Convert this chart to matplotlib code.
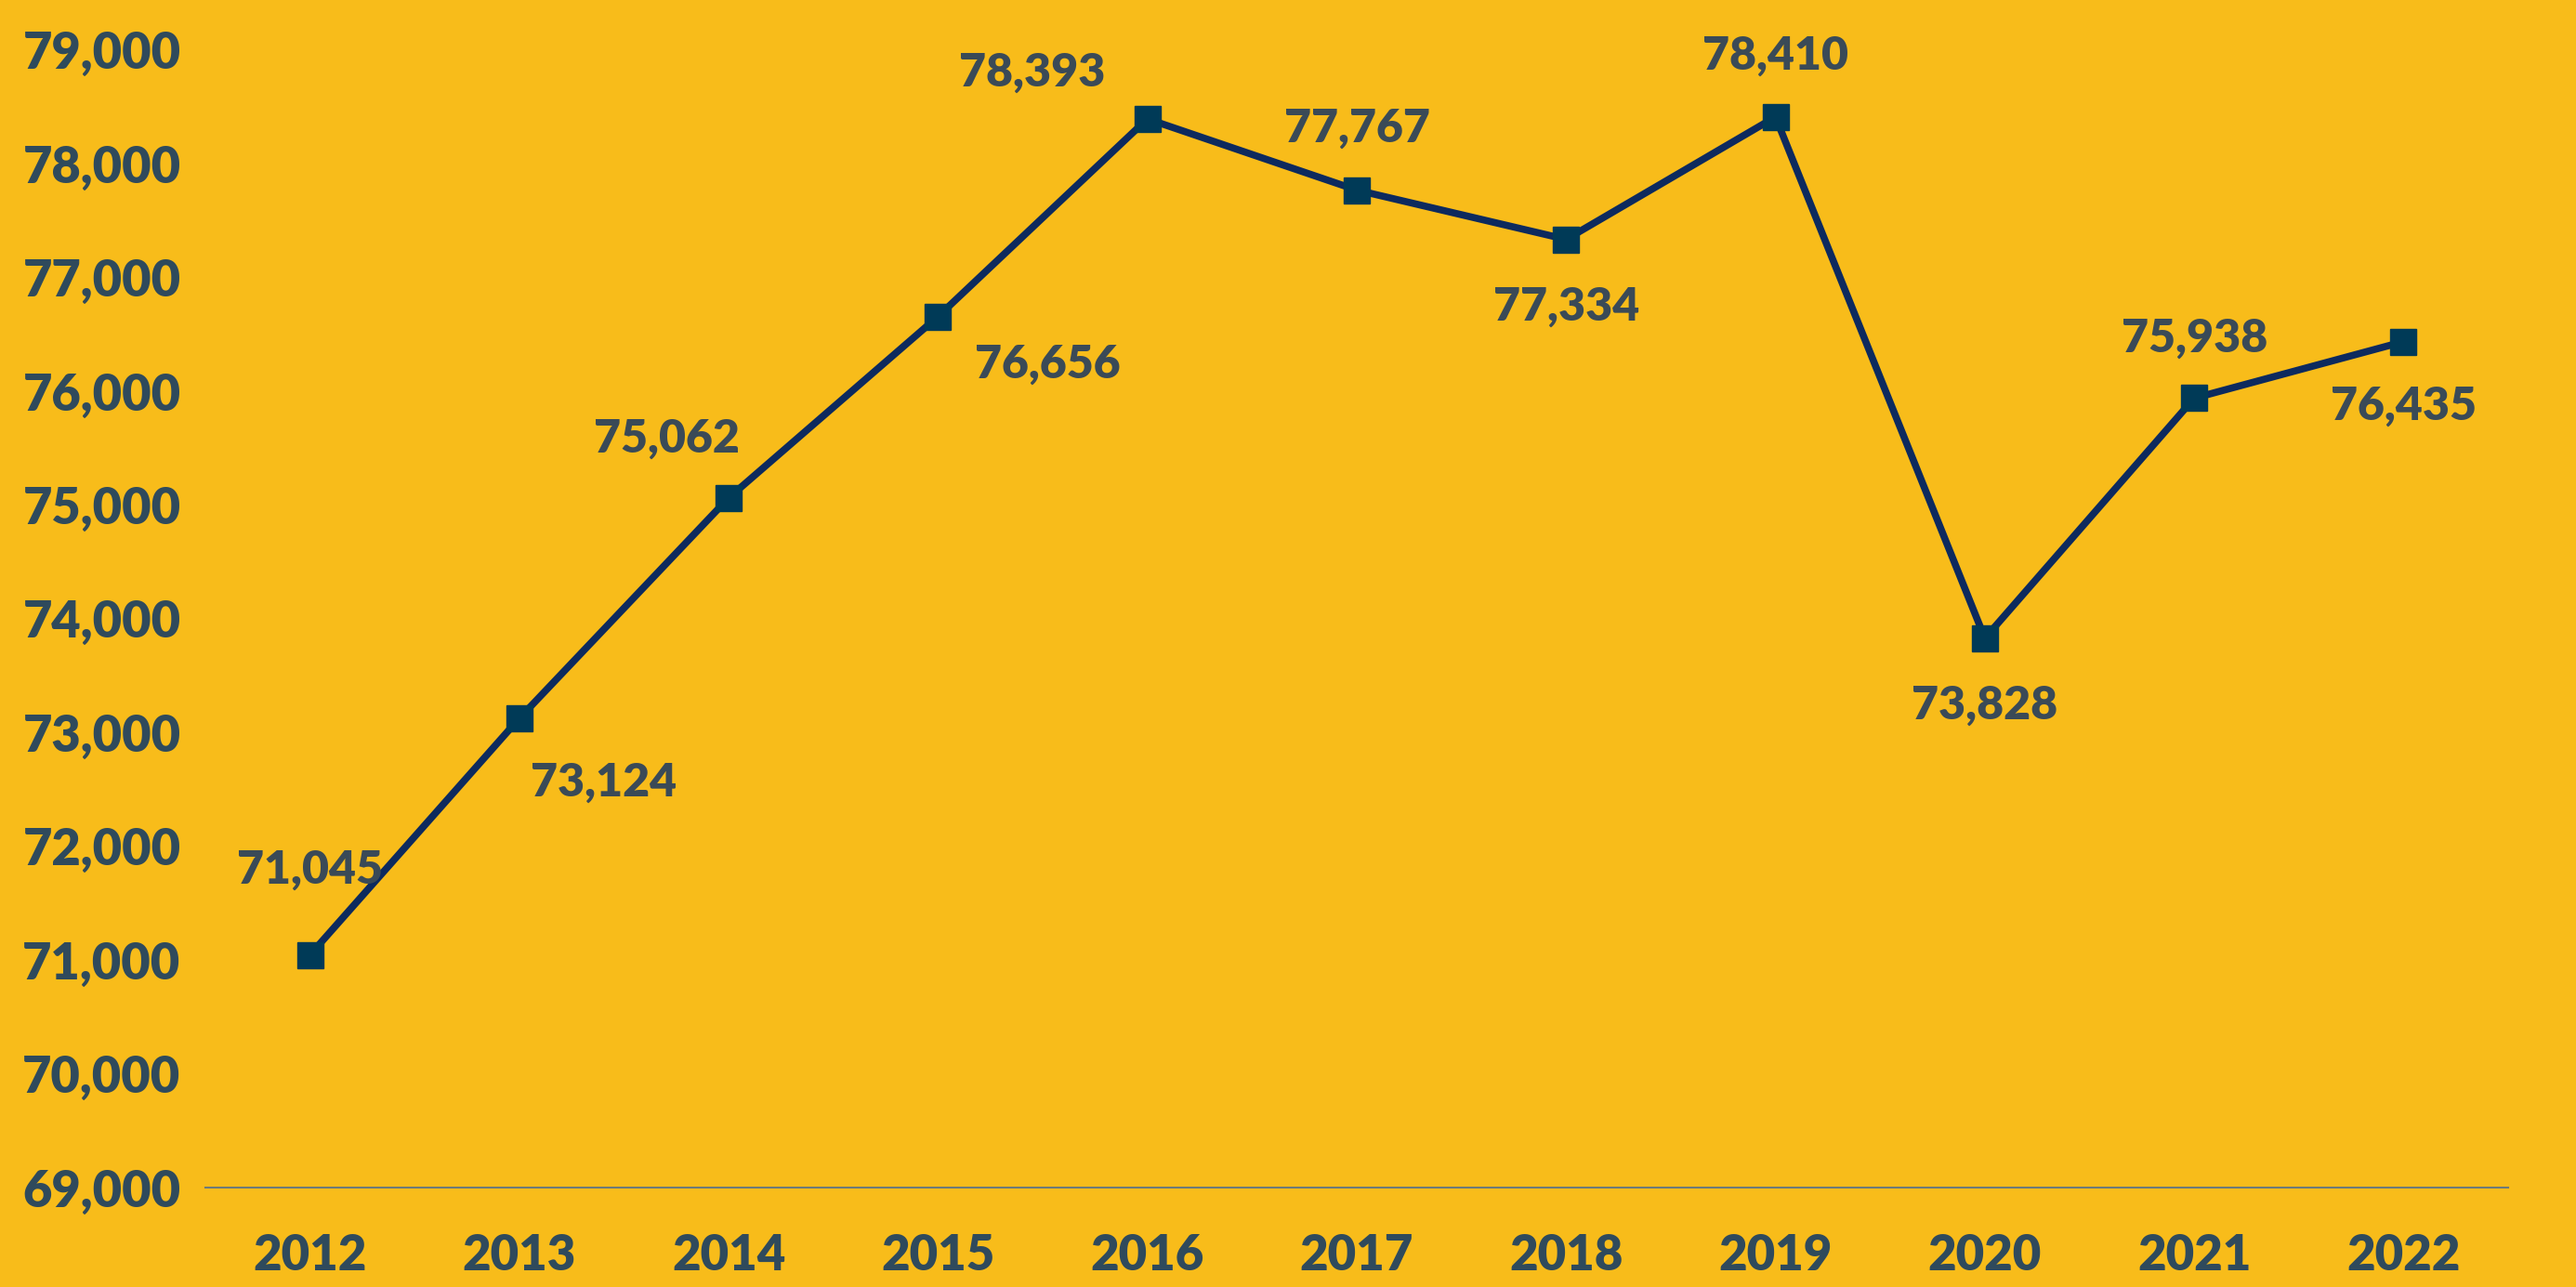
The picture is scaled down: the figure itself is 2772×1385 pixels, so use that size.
import matplotlib
matplotlib.use("Agg")
import matplotlib.pyplot as plt
from matplotlib.ticker import FuncFormatter

# data
years = ["2012", "2013", "2014", "2015", "2016", "2017", "2018", "2019", "2020", "2021", "2022"]
values = [71045, 73124, 75062, 76656, 78393, 77767, 77334, 78410, 73828, 75938, 76435]

# label offsets (points) relative to each marker
label_offsets = [(0, 66), (65, -50), (-48, 46), (85, -37), (-89, 36), (0, 48),
                 (0, -52), (0, 47), (0, -52), (0, 46), (0, -50)]

C_BG = "#F8BC1A"
C_LINE = "#0D2A5E"
C_MARK = "#003A57"
C_TICK = "#2F4A5C"
C_LABEL = "#3A4A57"

plt.rcParams["font.family"] = ["Lato", "DejaVu Sans"]

fig = plt.figure(figsize=(27.72, 13.85), dpi=100, facecolor=C_BG)
ax = fig.add_axes([0.0797, 0.0773, 0.894, 0.884])
ax.set_facecolor(C_BG)

x = list(range(len(years)))
ax.plot(x, values, color=C_LINE, linewidth=5.5, marker="s", markersize=20,
        markerfacecolor=C_MARK, markeredgecolor=C_MARK, zorder=3)

for xi, v, (dx, dy) in zip(x, values, label_offsets):
    ax.annotate(f"{v:,}", (xi, v), xytext=(dx, dy), textcoords="offset points",
                ha="center", va="center", fontsize=36, fontweight="heavy", color=C_LABEL)

ax.set_xlim(-0.5, len(years) - 0.5)
ax.set_ylim(69000, 79000)
ax.set_xticks(x)
ax.set_xticklabels(years)
ax.set_yticks(range(69000, 79001, 1000))
ax.yaxis.set_major_formatter(FuncFormatter(lambda v, p: f"{int(v):,}"))

for s in ["top", "right", "left"]:
    ax.spines[s].set_visible(False)
ax.spines["bottom"].set_color("#6E7B78")
ax.spines["bottom"].set_linewidth(1.5)

ax.tick_params(axis="x", length=0, pad=35, labelsize=38, labelcolor=C_TICK)
ax.tick_params(axis="y", length=0, pad=19, labelsize=39, labelcolor=C_TICK)
for t in ax.get_xticklabels() + ax.get_yticklabels():
    t.set_fontweight("heavy")

fig.savefig("out.png", dpi=100, facecolor=C_BG)
